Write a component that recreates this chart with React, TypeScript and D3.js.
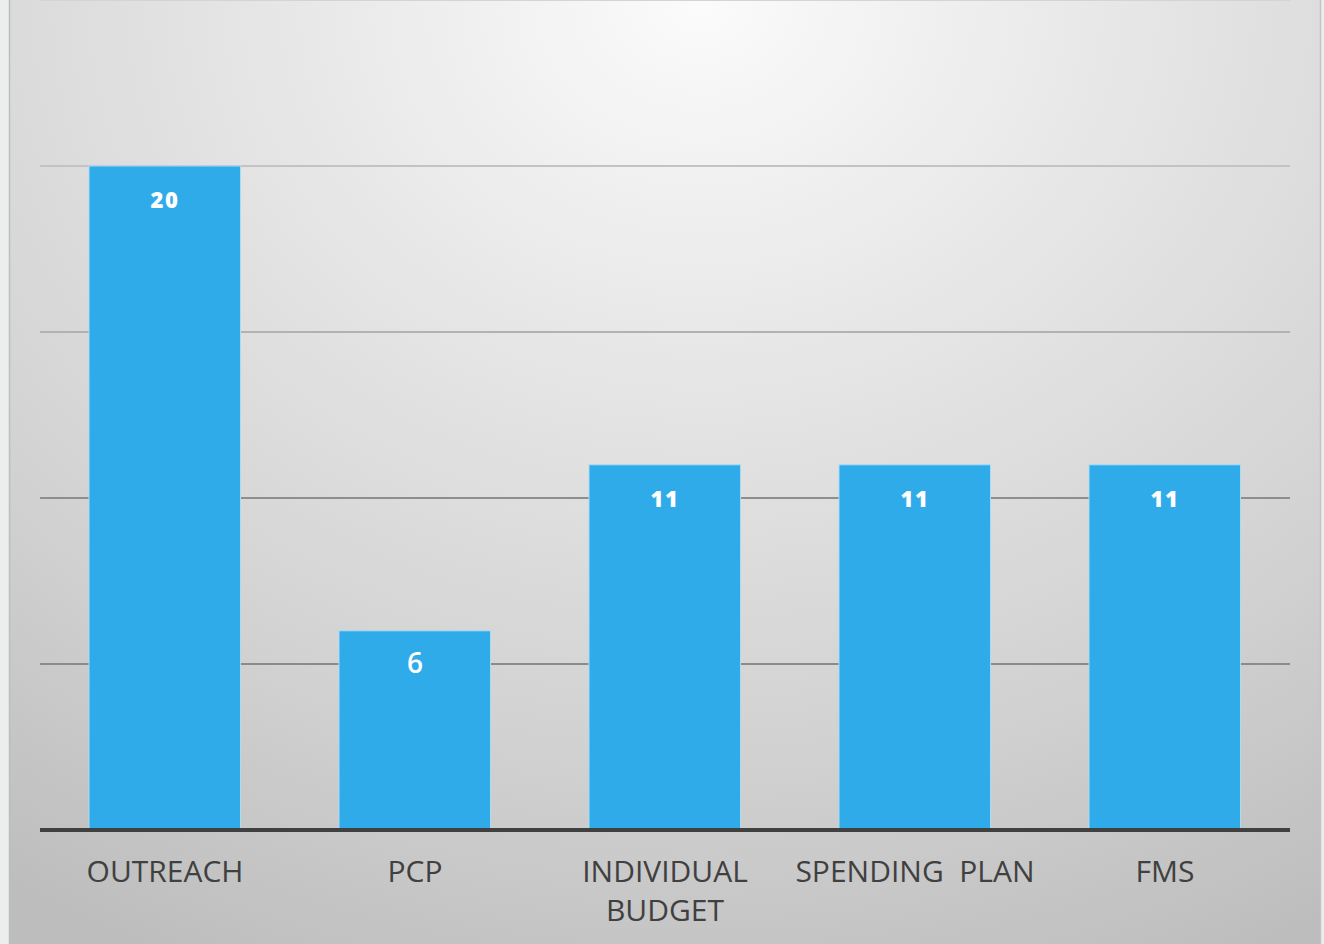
import React from "react";
import * as d3 from "d3";

const categories: string[][] = [["OUTREACH"], ["PCP"], ["INDIVIDUAL", "BUDGET"], ["SPENDING  PLAN"], ["FMS"]];
const values: number[] = [20, 6, 11, 11, 11];
const gridTicks: number[] = [5, 10, 15, 20, 25];

const W = 1324;
const H = 944;

export default function App() {
  const x = d3.scaleBand<number>().domain(d3.range(values.length)).range([40, 1290]).paddingInner(0.396).paddingOuter(0.198);
  const y = d3.scaleLinear().domain([0, 25]).range([830, 0]);
  const gridColor = d3.scaleLinear<string>().domain([25, 15, 10, 0]).range(["#d4d4d4", "#b2b2b2", "#8e8e8e", "#888888"]);

  return (
    <svg width={W} height={H} style={{ position: "absolute", left: 0, top: 0 }} xmlns="http://www.w3.org/2000/svg">
      <defs>
        <radialGradient id="bg" cx="700" cy="0" r="1250" gradientUnits="userSpaceOnUse" gradientTransform="translate(700 0) scale(1 0.85) translate(-700 0)">
          <stop offset="0" stopColor="#fbfbfb" />
          <stop offset="0.35" stopColor="#e6e6e6" />
          <stop offset="0.7" stopColor="#d2d2d2" />
          <stop offset="1" stopColor="#bdbdbd" />
        </radialGradient>
      </defs>
      <rect x={0} y={0} width={W} height={H} fill="#eceeee" />
      <rect x={10} y={0} width={1310} height={H} fill="url(#bg)" />
      <line x1={9.5} x2={9.5} y1={0} y2={H} stroke="#bdbdbd" strokeWidth={1.5} />
      <line x1={1320.5} x2={1320.5} y1={0} y2={H} stroke="#c4c4c4" strokeWidth={1.5} />
      {gridTicks.map((t) => (
        <line key={t} x1={40} x2={1290} y1={y(t)} y2={y(t)} stroke={gridColor(t)} strokeWidth={2} />
      ))}
      {values.map((v, i) => (
        <rect key={i} x={x(i)! - 0.5} y={y(v)} width={x.bandwidth() + 0.5} height={y(0) - y(v)} fill="#30abea" stroke="#a8dcf5" strokeWidth={1} />
      ))}
      <line x1={40} x2={1290} y1={y(0)} y2={y(0)} stroke="#404040" strokeWidth={4} />
      {values.map((v, i) => (
        <text
          key={i}
          x={x(i)! + x.bandwidth() / 2}
          y={y(v) + (v < 10 ? 42 : 42)}
          textAnchor="middle"
          fill="#ffffff"
          fontFamily="'Open Sans', sans-serif"
          fontWeight={v < 10 ? 600 : 800}
          fontSize={v < 10 ? 28 : 22}
          letterSpacing={v < 10 ? 0 : 1.5}
        >
          {v}
        </text>
      ))}
      {categories.map((lines, i) => (
        <text key={i} x={x(i)! + x.bandwidth() / 2} textAnchor="middle" fill="#404040" fontFamily="'Open Sans', sans-serif" fontSize={30}>
          {lines.map((l, j) => (
            <tspan key={j} x={x(i)! + x.bandwidth() / 2} y={882 + j * 39} style={{ whiteSpace: "pre" }}>
              {l}
            </tspan>
          ))}
        </text>
      ))}
    </svg>
  );
}
